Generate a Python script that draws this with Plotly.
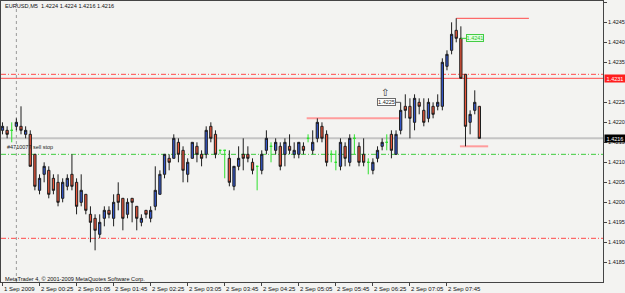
import plotly.graph_objects as go

# ---------------- data (EURUSD M5) ----------------
bar_index = list(range(104))
opens = [1.4218, 1.4218, 1.4218, 1.4219, 1.4219, 1.4217, 1.4217, 1.4212, 1.4203, 1.4207,
         1.4208, 1.4206, 1.4205, 1.4201, 1.4204, 1.4207, 1.4205, 1.4200, 1.4202, 1.4197,
         1.4196, 1.4192, 1.4196, 1.4198, 1.4196, 1.4202, 1.4201, 1.4197, 1.4201, 1.4199,
         1.4195, 1.4198, 1.4196, 1.4199, 1.4202, 1.4207, 1.4211, 1.4211, 1.4215, 1.4213,
         1.4207, 1.4211, 1.4214, 1.4212, 1.4212, 1.4219, 1.4217, 1.4213, 1.4213, 1.4211,
         1.4204, 1.4209, 1.4212, 1.4212, 1.4210, 1.4209, 1.4208, 1.4213, 1.4214, 1.4213,
         1.4214, 1.4212, 1.4214, 1.4212, 1.4212, 1.4214, 1.4216, 1.4213, 1.4216, 1.4219,
         1.4217, 1.4212, 1.4210, 1.4209, 1.4214, 1.4210, 1.4216, 1.4214, 1.4212, 1.4210,
         1.4208, 1.4211, 1.4214, 1.4215, 1.4217, 1.4212, 1.4218, 1.4224, 1.4224, 1.4220,
         1.4225, 1.4223, 1.4221, 1.4224, 1.4224, 1.4224, 1.4234, 1.4238, 1.4243, 1.4241,
         1.4232, 1.4220, 1.4223, 1.4224]
highs = [1.4220, 1.4219, 1.4220, 1.4221, 1.4224, 1.4219, 1.4218, 1.4212, 1.4207, 1.4210,
         1.4209, 1.4207, 1.4207, 1.4206, 1.4207, 1.4212, 1.4206, 1.4207, 1.4202, 1.4199,
         1.4197, 1.4197, 1.4199, 1.4199, 1.4202, 1.4205, 1.4201, 1.4201, 1.4201, 1.4199,
         1.4197, 1.4198, 1.4199, 1.4209, 1.4208, 1.4212, 1.4212, 1.4217, 1.4216, 1.4214,
         1.4211, 1.4215, 1.4215, 1.4213, 1.4219, 1.4220, 1.4218, 1.4213, 1.4213, 1.4213,
         1.4209, 1.4214, 1.4216, 1.4214, 1.4211, 1.4209, 1.4213, 1.4218, 1.4215, 1.4216,
         1.4215, 1.4216, 1.4217, 1.4215, 1.4215, 1.4215, 1.4217, 1.4218, 1.4221, 1.4220,
         1.4218, 1.4213, 1.4213, 1.4216, 1.4215, 1.4217, 1.4217, 1.4215, 1.4216, 1.4211,
         1.4211, 1.4214, 1.4216, 1.4217, 1.4218, 1.4218, 1.4225, 1.4227, 1.4226, 1.4227,
         1.4226, 1.4226, 1.4226, 1.4225, 1.4227, 1.4236, 1.4238, 1.4245, 1.4246, 1.4244,
         1.4232, 1.4223, 1.4228, 1.4224]
lows = [1.4217, 1.4216, 1.4215, 1.4218, 1.4217, 1.4216, 1.4209, 1.4203, 1.4202, 1.4205,
        1.4201, 1.4202, 1.4199, 1.4200, 1.4203, 1.4203, 1.4197, 1.4199, 1.4197, 1.4190,
        1.4188, 1.4191, 1.4194, 1.4196, 1.4194, 1.4198, 1.4193, 1.4196, 1.4195, 1.4193,
        1.4194, 1.4196, 1.4195, 1.4198, 1.4202, 1.4206, 1.4208, 1.4211, 1.4210, 1.4205,
        1.4205, 1.4211, 1.4210, 1.4209, 1.4211, 1.4215, 1.4211, 1.4212, 1.4206, 1.4204,
        1.4203, 1.4208, 1.4208, 1.4210, 1.4207, 1.4203, 1.4207, 1.4212, 1.4210, 1.4212,
        1.4208, 1.4209, 1.4212, 1.4211, 1.4211, 1.4212, 1.4215, 1.4212, 1.4215, 1.4215,
        1.4209, 1.4210, 1.4208, 1.4208, 1.4209, 1.4209, 1.4212, 1.4209, 1.4209, 1.4207,
        1.4207, 1.4210, 1.4213, 1.4213, 1.4211, 1.4212, 1.4217, 1.4221, 1.4216, 1.4218,
        1.4222, 1.4219, 1.4220, 1.4221, 1.4223, 1.4223, 1.4233, 1.4237, 1.4240, 1.4231,
        1.4214, 1.4217, 1.4222, 1.4216]
closes = [1.4219, 1.4217, 1.4218, 1.4220, 1.4218, 1.4218, 1.4209, 1.4204, 1.4206, 1.4209,
          1.4202, 1.4203, 1.4200, 1.4205, 1.4206, 1.4204, 1.4199, 1.4203, 1.4198, 1.4195,
          1.4193, 1.4195, 1.4198, 1.4197, 1.4200, 1.4200, 1.4196, 1.4200, 1.4200, 1.4196,
          1.4196, 1.4197, 1.4198, 1.4203, 1.4207, 1.4212, 1.4210, 1.4216, 1.4212, 1.4208,
          1.4210, 1.4215, 1.4212, 1.4211, 1.4218, 1.4216, 1.4212, 1.4213, 1.4213, 1.4205,
          1.4209, 1.4211, 1.4211, 1.4211, 1.4208, 1.4209, 1.4212, 1.4216, 1.4214, 1.4215,
          1.4209, 1.4215, 1.4213, 1.4213, 1.4215, 1.4213, 1.4216, 1.4215, 1.4220, 1.4216,
          1.4210, 1.4212, 1.4210, 1.4215, 1.4211, 1.4216, 1.4216, 1.4210, 1.4210, 1.4210,
          1.4210, 1.4213, 1.4215, 1.4215, 1.4213, 1.4217, 1.4223, 1.4223, 1.4221, 1.4226,
          1.4224, 1.4220, 1.4225, 1.4222, 1.4225, 1.4235, 1.4237, 1.4242, 1.4241, 1.4231,
          1.4219, 1.4222, 1.4225, 1.4216]

time_tick_index = [0, 8, 16, 24, 32, 40, 48, 56, 64, 72, 80, 88, 96]
time_tick_text = ["1 Sep 2009", "2 Sep 00:25", "2 Sep 01:05", "2 Sep 01:45", "2 Sep 02:25",
                  "2 Sep 03:05", "2 Sep 03:45", "2 Sep 04:25", "2 Sep 05:05", "2 Sep 05:45",
                  "2 Sep 06:25", "2 Sep 07:05", "2 Sep 07:45"]
price_ticks = [1.4185, 1.4190, 1.4195, 1.4200, 1.4205, 1.4210, 1.4215, 1.4220, 1.4225,
               1.4235, 1.4240, 1.4245, 1.4250]

# horizontal levels across the chart
level_prices = [1.4232, 1.4231, 1.4212, 1.4191, 1.4216]
level_names = ["stop_dash", "order", "sell_stop", "lower_dash", "bid"]
# partial horizontal segments (start bar, end bar, price)
seg_start = [65.7, 98.0, 98.8]
seg_end = [86.0, 113.7, 104.9]
seg_price = [1.4221, 1.4246, 1.4214]

header_text = "EURUSD,M5  1.4224 1.4224 1.4216 1.4216"
order_label = "#4710077 sell stop"
copyright_text = "MetaTrader 4, © 2001-2009 MetaQuotes Software Corp."
bid_price = 1.4216
order_price = 1.4231
label_left_price = 1.4225
label_green_price = 1.4241
period_separator_bar = 3

# ---------------- geometry helpers ----------------
W, H = 625, 293
PL, PR, PT, PB = 1, 603, 1, 282
def px(x):
    return (x - PL) / (PR - PL)
def py(y):
    return (PB - y) / (PB - PT)

BG = "#f3f3f1"
FONT = "Liberation Sans, Arial, sans-serif"

fig = go.Figure()

is_doji = [abs(o - c) < 1e-9 for o, c in zip(opens, closes)]
def pick(arr, flag):
    return [v for v, d in zip(arr, is_doji) if d == flag]

fig.add_trace(go.Candlestick(
    x=pick(bar_index, False), open=pick(opens, False), high=pick(highs, False),
    low=pick(lows, False), close=pick(closes, False),
    increasing=dict(line=dict(color="#1e1e1e", width=1), fillcolor="#3356c9"),
    decreasing=dict(line=dict(color="#1e1e1e", width=1), fillcolor="#ea553a"),
    whiskerwidth=0, hoverinfo="skip", showlegend=False))

fig.add_trace(go.Candlestick(
    x=pick(bar_index, True), open=pick(opens, True), high=pick(highs, True),
    low=pick(lows, True), close=pick(closes, True),
    increasing=dict(line=dict(color="#2ee02e", width=1), fillcolor="#2ee02e"),
    decreasing=dict(line=dict(color="#2ee02e", width=1), fillcolor="#2ee02e"),
    whiskerwidth=0, hoverinfo="skip", showlegend=False))

level_style = {
    "stop_dash": dict(color="#ff4a4a", width=1, dash="5px,2px,1px,2px"),
    "order": dict(color="#ff4a4a", width=1),
    "sell_stop": dict(color="#3ccc3c", width=1, dash="5px,2px,1px,2px"),
    "lower_dash": dict(color="#ff4a4a", width=1, dash="5px,2px,1px,2px"),
    "bid": dict(color="#c4c4c4", width=2),
}
shapes = []
for p, name in zip(level_prices, level_names):
    shapes.append(dict(type="line", xref="paper", x0=0, x1=1, yref="y", y0=p, y1=p,
                       line=level_style[name], layer="below"))
seg_style = [dict(color="#ff9c9c", width=2), dict(color="#ff4a4a", width=1),
             dict(color="#ff9c9c", width=2)]
for s, e, p, st in zip(seg_start, seg_end, seg_price, seg_style):
    shapes.append(dict(type="line", xref="x", x0=s, x1=e, yref="y", y0=p, y1=p,
                       line=st, layer="below"))
# period separator
shapes.append(dict(type="line", xref="x", x0=period_separator_bar, x1=period_separator_bar,
                   yref="paper", y0=0, y1=1, line=dict(color="#9a9a9a", width=1, dash="dot"),
                   layer="below"))
# connectors from labels to bars
shapes.append(dict(type="line", xref="x", x0=84.9, x1=86, yref="y",
                   y0=label_left_price, y1=label_left_price, line=dict(color="#555", width=1)))
shapes.append(dict(type="line", xref="x", x0=99, x1=100.3, yref="y",
                   y0=label_green_price, y1=label_green_price, line=dict(color="#33cc33", width=1)))

annotations = [
    dict(text=header_text, xref="paper", yref="paper", x=px(3), y=py(6), xanchor="left",
         yanchor="middle", showarrow=False, font=dict(size=5.6, color="#111", family=FONT)),
    dict(text=copyright_text, xref="paper", yref="paper", x=px(3), y=py(278.5), xanchor="left",
         yanchor="middle", showarrow=False, font=dict(size=5.6, color="#111", family=FONT)),
    dict(text=order_label, xref="paper", yref="y", x=px(5), y=1.42125, xanchor="left",
         yanchor="bottom", showarrow=False, font=dict(size=5.5, color="#222", family=FONT)),
    dict(text=f"{order_price:.4f}", xref="paper", yref="y", x=px(604), y=order_price,
         xanchor="left", yanchor="middle", showarrow=False, bgcolor="#ff1e1e",
         width=20, height=7, borderpad=0, font=dict(size=5.5, color="#ffffff", family=FONT)),
    dict(text=f"{bid_price:.4f}", xref="paper", yref="y", x=px(604), y=bid_price,
         xanchor="left", yanchor="middle", showarrow=False, bgcolor="#000000",
         width=20, height=7, borderpad=0, font=dict(size=5.5, color="#ffffff", family=FONT)),
    dict(text=f"{label_left_price:.4f}", xref="x", yref="y", x=82.94, y=label_left_price,
         xanchor="center", yanchor="middle", showarrow=False, bgcolor="#ffffff",
         bordercolor="#6a6a6a", borderwidth=1, width=17, height=6, borderpad=0,
         font=dict(size=5.5, color="#222", family=FONT)),
    dict(text="⇧", xref="x", yref="y", x=82.7, y=1.42275, xanchor="center", yanchor="middle",
         showarrow=False, font=dict(size=10, color="#333", family="DejaVu Sans")),
    dict(text=f"{label_green_price:.4f}", xref="x", yref="y", x=102.16, y=label_green_price,
         xanchor="center", yanchor="middle", showarrow=False, bgcolor="#e2ffe2",
         bordercolor="#44cc44", borderwidth=1, width=16, height=6, borderpad=0,
         font=dict(size=5.5, color="#2cbf2c", family=FONT)),
]
# time labels, left-aligned just right of each tick (as MetaTrader draws them)
for i, t in zip(time_tick_index, time_tick_text):
    annotations.append(dict(text=t, xref="x", yref="paper", x=i - 0.15, y=py(288.5),
                            xanchor="left", yanchor="middle", showarrow=False,
                            font=dict(size=6, color="#111", family=FONT)))

fig.update_layout(
    width=W, height=H,
    margin=dict(l=PL, r=W - PR, t=PT, b=H - PB, pad=0),
    paper_bgcolor=BG, plot_bgcolor=BG,
    showlegend=False, hovermode=False,
    shapes=shapes, annotations=annotations,
    xaxis=dict(type="linear", range=[-0.32, 129.7], rangeslider=dict(visible=False),
               showgrid=False, zeroline=False, showline=True, mirror=True,
               linecolor="#444", linewidth=1,
               tickmode="array", tickvals=time_tick_index, showticklabels=False,
               ticks="outside", ticklen=3, tickcolor="#444", tickwidth=1,
               automargin=False),
    yaxis=dict(range=[1.418008, 1.425033], side="right", showgrid=False, zeroline=False,
               showline=True, mirror=True, linecolor="#444", linewidth=1,
               tickmode="array", tickvals=price_ticks, tickformat=".4f",
               ticks="outside", ticklen=3, tickcolor="#444", tickwidth=1,
               automargin=False, tickfont=dict(size=5.5, color="#111", family=FONT)),
)

fig.write_html("out.html", config={"displayModeBar": False})
